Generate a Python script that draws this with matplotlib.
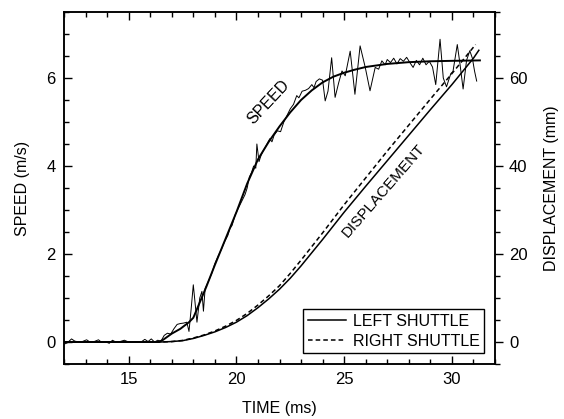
import matplotlib
matplotlib.use("Agg")
import matplotlib.pyplot as plt
from matplotlib.ticker import MultipleLocator

# Smooth (fitted) speed curve
fit_t = [12.0, 16.4, 16.6, 16.8, 17.0, 17.4, 17.8, 18.0, 18.3, 18.6, 19.0, 19.5, 20.0,
         20.5, 21.0, 21.5, 22.0, 22.5, 23.0, 23.5, 24.0, 24.5, 25.0, 25.5, 26.0,
         27.0, 28.0, 29.0, 30.0, 31.3]
fit_speed = [0.0, 0.0, 0.05, 0.12, 0.19, 0.3, 0.45, 0.55, 0.9, 1.25, 1.75, 2.35, 2.95,
             3.6, 4.15, 4.55, 4.9, 5.22, 5.5, 5.72, 5.9, 6.03, 6.12, 6.19, 6.25,
             6.32, 6.36, 6.38, 6.39, 6.4]

# Measured (noisy) speed trace
raw_t = [12.0, 12.15, 12.35, 12.5, 12.7, 12.85, 13.05, 13.2, 13.4, 13.6, 13.75, 13.95,
         14.1, 14.25, 14.4, 14.6, 14.8, 15.0, 15.2, 15.4, 15.55, 15.75, 15.9, 16.05,
         16.2, 16.35, 16.5, 16.65, 16.8, 16.95, 17.1, 17.25, 17.4, 17.55, 17.7, 17.8,
         17.9, 18.0, 18.08, 18.17, 18.3, 18.4, 18.47, 18.55, 18.7, 18.85, 19.0, 19.15,
         19.3, 19.45, 19.6, 19.7, 19.8, 19.95, 20.1, 20.25, 20.4, 20.5, 20.6, 20.7,
         20.8, 20.9, 20.95, 21.05, 21.15, 21.25, 21.4, 21.55, 21.65, 21.75, 21.9, 22.05,
         22.2, 22.35, 22.5, 22.65, 22.8, 22.9, 23.05, 23.2, 23.35, 23.5, 23.6, 23.7,
         23.85, 24.0, 24.12, 24.25, 24.42, 24.58, 24.75, 24.9, 25.05, 25.28, 25.5, 25.74,
         25.98, 26.2, 26.44, 26.6, 26.75, 26.9, 27.0, 27.15, 27.3, 27.45, 27.6, 27.75,
         27.9, 28.05, 28.2, 28.35, 28.5, 28.65, 28.8, 28.95, 29.1, 29.25, 29.45, 29.6,
         29.75, 29.95, 30.05, 30.25, 30.38, 30.52, 30.68, 30.83, 30.95, 31.05, 31.15]
raw_speed = [-0.05, -0.02, 0.07, 0.02, 0.0, 0.01, 0.05, 0.0, 0.01, 0.05, -0.01, 0.0,
             -0.03, 0.04, 0.0, 0.01, 0.04, 0.0, -0.01, 0.01, -0.01, 0.06, 0.01, 0.07,
             0.0, 0.04, 0.02, 0.15, 0.2, 0.18, 0.3, 0.4, 0.42, 0.43, 0.45, 0.24,
             0.75, 1.3, 0.9, 0.45, 1.0, 1.15, 0.7, 1.22, 1.38, 1.55, 1.78, 1.95,
             2.1, 2.28, 2.42, 2.58, 2.65, 2.9, 3.05, 3.2, 3.35, 3.5, 3.75, 3.85,
             4.0, 3.95, 4.5, 4.1, 4.25, 4.35, 4.48, 4.62, 4.55, 4.7, 4.8, 4.78,
             5.0, 5.15, 5.3, 5.4, 5.6, 5.55, 5.7, 5.72, 5.76, 5.85, 5.78, 5.92,
             5.98, 5.95, 5.48, 5.7, 6.46, 5.56, 5.9, 6.16, 6.05, 6.61, 5.63, 6.73,
             6.24, 5.71, 6.24, 6.2, 6.39, 6.3, 6.42, 6.35, 6.45, 6.32, 6.44, 6.38,
             6.47, 6.35, 6.24, 6.4, 6.3, 6.45, 6.3, 6.38, 6.25, 5.85, 6.88, 6.0,
             5.8, 6.1, 6.15, 6.76, 6.3, 5.75, 6.4, 6.62, 6.45, 6.16, 5.93]

# Displacement curves (mm)
left_t = [12.0, 16.5, 17.0, 17.5, 18.0, 18.5, 19.0, 19.5, 20.0, 20.5, 21.0, 21.5,
          22.0, 22.5, 23.0, 24.0, 25.0, 26.0, 27.0, 28.0, 29.0, 30.0, 31.0, 31.25]
left_disp = [0.0, 0.0, 0.1, 0.3, 0.8, 1.5, 2.3, 3.3, 4.5, 6.0, 7.8, 9.8,
             12.0, 14.5, 17.3, 23.3, 29.5, 35.4, 41.2, 47.0, 52.8, 58.5, 64.5, 66.3]
right_t = [12.0, 16.5, 17.0, 17.5, 18.0, 18.5, 19.0, 19.5, 20.0, 20.5, 21.0, 21.5,
           22.0, 22.5, 23.0, 24.0, 25.0, 26.0, 27.0, 28.0, 29.0, 30.0, 31.1]
right_disp = [0.0, 0.0, 0.1, 0.35, 0.9, 1.6, 2.5, 3.6, 4.9, 6.5, 8.4, 10.5,
              12.8, 15.6, 18.6, 24.8, 31.2, 37.3, 43.4, 49.3, 55.2, 61.0, 67.6]

plt.rcParams['font.family'] = ['Liberation Sans', 'DejaVu Sans']

fig = plt.figure(figsize=(5.64, 4.19), dpi=100)
ax = fig.add_axes([64/564, 1 - 364/419, (495-64)/564, (364-12)/419])
ax2 = ax.twinx()

ax.plot(raw_t, raw_speed, color='black', lw=0.7)
ax.plot(fit_t, fit_speed, color='black', lw=1.4)

l1, = ax2.plot(left_t, left_disp, color='black', lw=1.1, label='LEFT SHUTTLE')
l2, = ax2.plot(right_t, right_disp, color='black', lw=1.1, ls=(0, (3, 2)), label='RIGHT SHUTTLE')

ax.set_xlim(12, 32)
ax.set_ylim(-0.5, 7.5)
ax2.set_ylim(-5, 75)

ax.xaxis.set_major_locator(MultipleLocator(5))
ax.xaxis.set_minor_locator(MultipleLocator(1))
ax.yaxis.set_major_locator(MultipleLocator(2))
ax.yaxis.set_minor_locator(MultipleLocator(0.5))
ax2.yaxis.set_major_locator(MultipleLocator(20))
ax2.yaxis.set_minor_locator(MultipleLocator(5))

ax.tick_params(which='both', direction='in', top=True, right=False, labelsize=12, width=1)
ax.tick_params(which='major', length=6, pad=6)
ax.tick_params(which='minor', length=3.5)
ax2.tick_params(which='both', direction='out', labelsize=12, width=1)
ax2.tick_params(which='major', length=6, pad=4)
ax2.tick_params(which='minor', length=3.5)

for a in (ax, ax2):
    for s in a.spines.values():
        s.set_linewidth(1.1)

ax.set_xlabel('TIME (ms)', fontsize=11.5, labelpad=10)
ax.set_ylabel('SPEED (m/s)', fontsize=11.5, labelpad=12)
ax2.set_ylabel('DISPLACEMENT (mm)', fontsize=11.5, labelpad=12)

ax.text(21.5, 5.45, 'SPEED', rotation=47, ha='center', va='center', fontsize=11.5)
ax.text(26.85, 3.45, 'DISPLACEMENT', rotation=49, ha='center', va='center', fontsize=11)

leg = ax2.legend(handles=[l1, l2], loc='lower right', bbox_to_anchor=(0.975, 0.03),
                 fontsize=11.5, frameon=True, fancybox=False, framealpha=1,
                 edgecolor='black', handlelength=2.4, handletextpad=0.4,
                 borderpad=0.3, labelspacing=0.3, borderaxespad=0)
leg.get_frame().set_linewidth(1.0)

fig.savefig('out.png', dpi=100)
